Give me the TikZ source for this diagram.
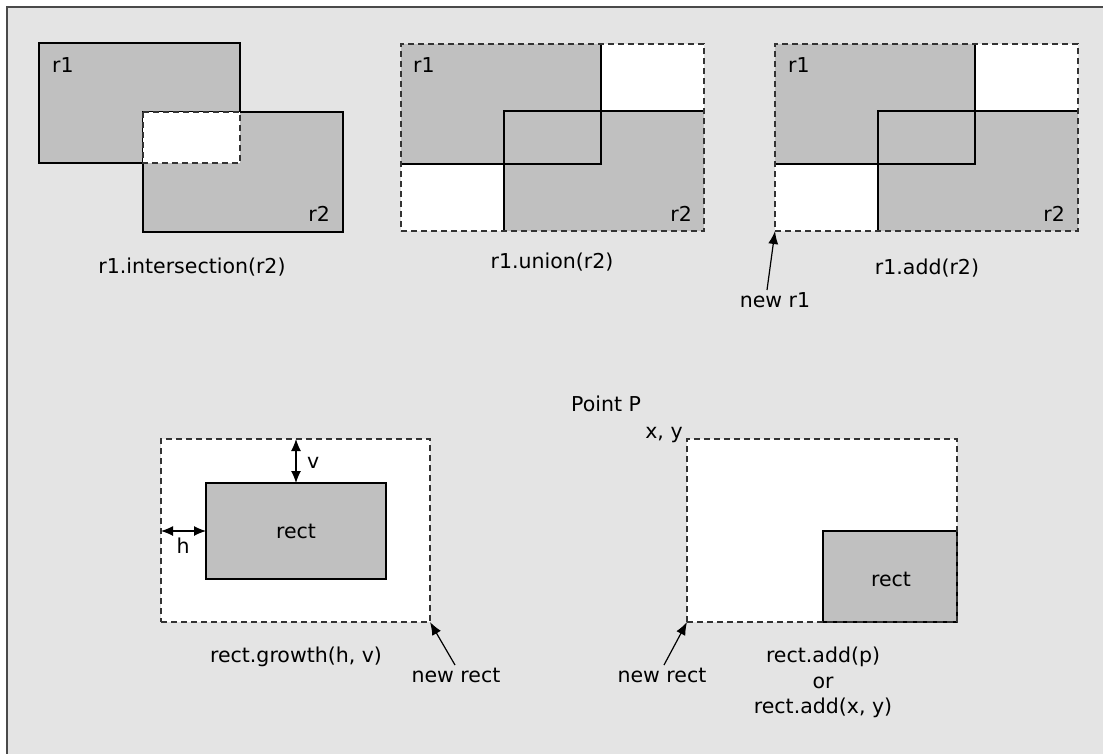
\documentclass[tikz,border=0pt]{standalone}
\usepackage{fontspec}
\setmainfont{DejaVu Sans}
\usetikzlibrary{arrows.meta}
\definecolor{bg}{HTML}{E4E4E4}
\definecolor{gr}{HTML}{C0C0C0}
\definecolor{fr}{HTML}{4A4A4A}
\definecolor{dsh}{HTML}{333333}
\begin{document}
\begin{tikzpicture}[x=1pt,y=-1pt,
  lbl/.style={inner sep=0pt, anchor=base, font=\fontsize{20.5}{24}\selectfont},
  solidline/.style={draw=black, line width=1.3pt},
  solidbox/.style={solidline, fill=gr},
  dashbox/.style={draw=dsh, line width=1.3pt, dash pattern=on 6pt off 4pt},
  boxnode/.style={inner sep=0pt, outer sep=0pt, anchor=north west},
  arr/.style={-{Latex[length=13pt,width=10pt]}, line width=1.2pt},
  darr/.style={{Latex[length=12pt,width=10pt]}-{Latex[length=12pt,width=10pt]}, line width=1.2pt}]
\useasboundingbox (0,0) rectangle (1103,753);
\clip (0,0) rectangle (1103,753);
\fill[white] (0,0) rectangle (1103,753);
\draw[fill=bg, draw=fr, line width=2pt] (7,7) rectangle (1130,780);

% ---------- intersection ----------
\coordinate (i1a) at (39,43);
\coordinate (i1b) at (240,163);
\coordinate (i2a) at (143,112);
\coordinate (i2b) at (343,232);
\draw[solidbox] (i1a) rectangle (i1b);
\draw[solidbox] (i2a) rectangle (i2b);
\draw[dashbox, fill=white] (i2a) rectangle (i1b);
\node[lbl, anchor=base west] (ir1) at (52,72) {r1};
\node[lbl, anchor=base east] (ir2) at (330,221) {r2};
\node[lbl] (ilab) at (192,273) {r1.intersection(r2)};

% ---------- union ----------
\fill[white] (401,44) rectangle (704,231);
\fill[gr] (401,44) rectangle (601,164);
\fill[gr] (504,111) rectangle (704,231);
\draw[solidline] (601,44) -- (601,164) -- (401,164);
\draw[solidline] (504,231) -- (504,111) -- (704,111);
\node[boxnode, dashbox, minimum width=303pt, minimum height=187pt] (ubox) at (401,44) {};
\node[lbl, anchor=base west] (ur1) at (413,72) {r1};
\node[lbl, anchor=base east] (ur2) at (692,221) {r2};
\node[lbl] (ulab) at (552,268) {r1.union(r2)};

% ---------- add ----------
\fill[white] (775,44) rectangle (1078,231);
\fill[gr] (775,44) rectangle (975,164);
\fill[gr] (878,111) rectangle (1078,231);
\draw[solidline] (975,44) -- (975,164) -- (775,164);
\draw[solidline] (878,231) -- (878,111) -- (1078,111);
\node[boxnode, dashbox, minimum width=303pt, minimum height=187pt] (abox) at (775,44) {};
\node[lbl, anchor=base west] (ar1) at (788,72) {r1};
\node[lbl, anchor=base east] (ar2) at (1065,221) {r2};
\node[lbl] (alab) at (927,274) {r1.add(r2)};
\node[lbl] (newr1) at (775,307) {new r1};
\coordinate (newr1tail) at (767,290);
\draw[arr] (newr1tail) -- (abox.south west);

% ---------- growth ----------
\node[boxnode, fill=white, minimum width=269pt, minimum height=183pt] (gbox) at (161,439) {};
\node[boxnode, solidbox, minimum width=180pt, minimum height=96pt] (grect) at (206,483) {};
\node[boxnode, dashbox, minimum width=269pt, minimum height=183pt] (gboxd) at (161,439) {};
\node[lbl] (grlab) at (296,538) {rect};
\draw[darr] (grect.north) -- (grect.north |- gbox.north);
\draw[darr] (grect.west) -- (grect.west -| gbox.west);
\node[lbl, anchor=base west] (vlab) at (307,468) {v};
\node[lbl] (hlab) at (183,553) {h};
\node[lbl] (glab) at (296,662) {rect.growth(h, v)};
\node[lbl] (gnew) at (456,682) {new rect};
\coordinate (gnewtail) at (455,665);
\draw[arr] (gnewtail) -- (gbox.south east);

% ---------- add point ----------
\node[boxnode, fill=white, minimum width=270pt, minimum height=183pt] (pbox) at (687,439) {};
\node[boxnode, solidbox, minimum width=134pt, minimum height=91pt] (prect) at (823,531) {};
\node[boxnode, dashbox, minimum width=270pt, minimum height=183pt] (pboxd) at (687,439) {};
\node[lbl] (prlab) at (891,586) {rect};
\node[lbl] (pp) at (606,411) {Point P};
\node[lbl] (xy) at (664,438) {x, y};
\node[lbl] (pnew) at (662,682) {new rect};
\coordinate (pnewtail) at (664,665);
\draw[arr] (pnewtail) -- (pbox.south west);
\node[lbl] (plab1) at (823,662) {rect.add(p)};
\node[lbl] (plab2) at (823,688) {or};
\node[lbl] (plab3) at (823,713) {rect.add(x, y)};
\end{tikzpicture}
\end{document}
